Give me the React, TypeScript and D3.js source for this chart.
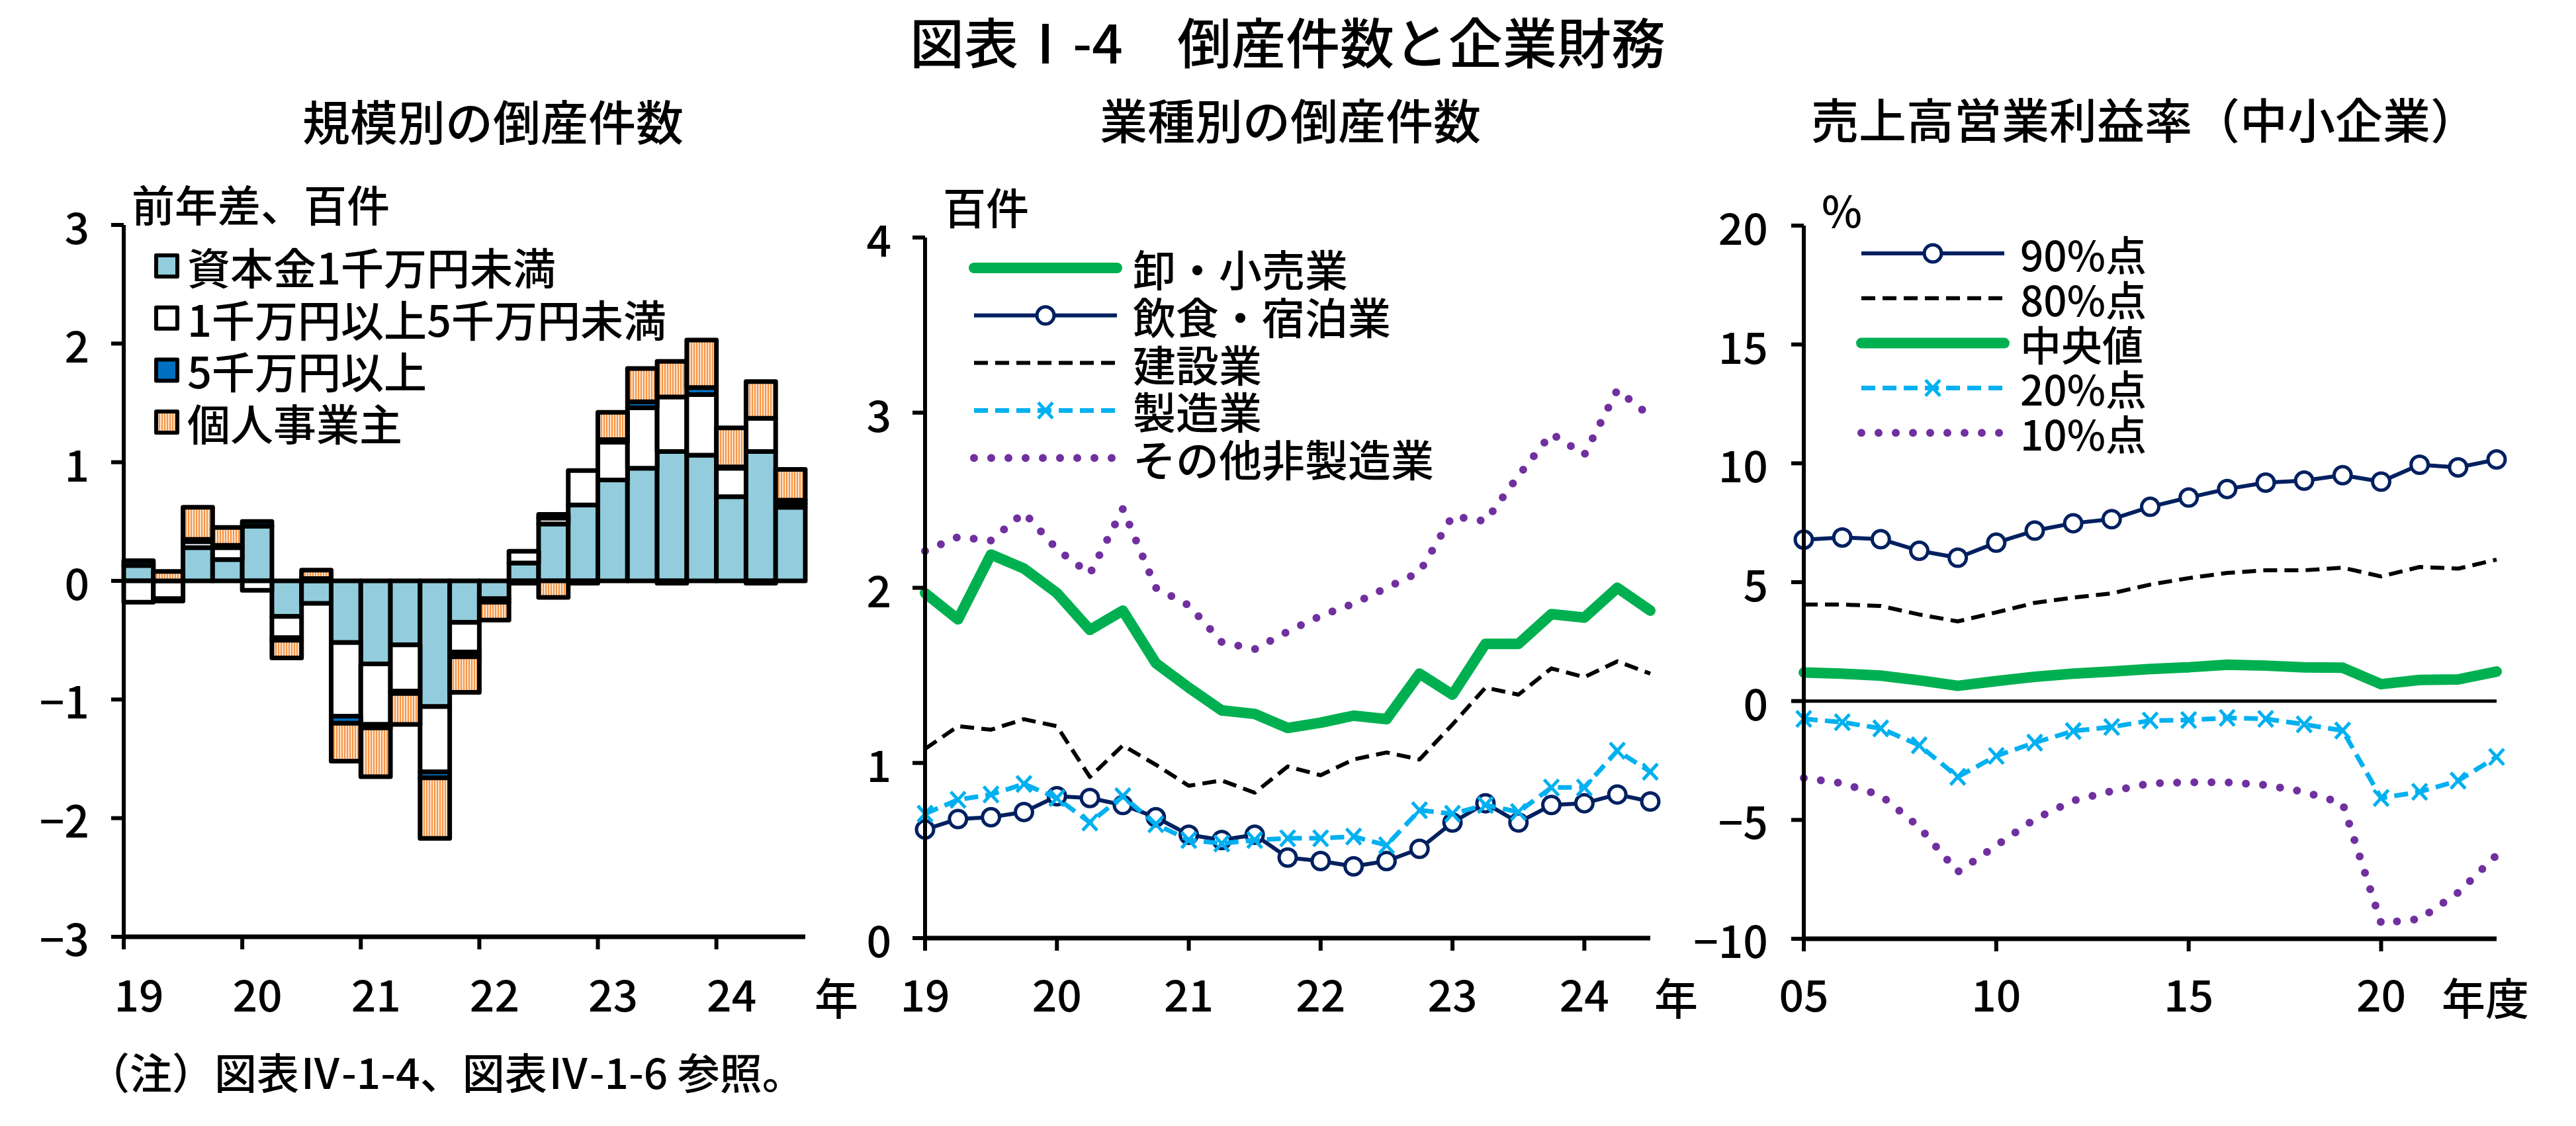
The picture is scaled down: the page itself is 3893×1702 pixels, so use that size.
import React from "react";
import * as d3 from "d3";

// ---------- DATA ----------
const quarters = ["19Q1","19Q2","19Q3","19Q4","20Q1","20Q2","20Q3","20Q4","21Q1","21Q2","21Q3","21Q4","22Q1","22Q2","22Q3","22Q4","23Q1","23Q2","23Q3","23Q4","24Q1","24Q2","24Q3"];
const yearLabels = ["19","20","21","22","23","24"];
const yearStartQuarters = ["19Q1","20Q1","21Q1","22Q1","23Q1","24Q1"];

// 規模別の倒産件数 (前年差、百件)
const capUnder10m = [0.13, 0, 0.28, 0.18, 0.46, -0.30, -0.19, -0.52, -0.70, -0.54, -1.06, -0.35, -0.15, 0.15, 0.48, 0.64, 0.85, 0.95, 1.09, 1.06, 0.71, 1.09, 0.62];
const cap10to50m = [-0.18, -0.15, 0.05, 0.10, -0.08, -0.18, 0.02, -0.62, -0.51, -0.39, -0.55, -0.25, -0.03, 0.10, 0.05, 0.29, 0.32, 0.51, 0.46, 0.51, 0.24, 0.28, 0.03];
const capOver50m = [0.04, -0.02, 0.02, 0.02, 0.04, -0.02, 0, -0.06, -0.03, -0.02, -0.05, -0.04, 0, -0.02, 0.03, -0.02, 0.02, 0.05, -0.02, 0.06, 0.01, -0.02, 0.03];
const soleProp = [0, 0.08, 0.27, 0.15, 0, -0.15, 0.07, -0.32, -0.41, -0.26, -0.51, -0.30, -0.15, 0, -0.14, 0, 0.23, 0.28, 0.30, 0.40, 0.33, 0.31, 0.26];
const sizeNames = ["資本金1千万円未満", "1千万円以上5千万円未満", "5千万円以上", "個人事業主"];

// 業種別の倒産件数 (百件)
const wholesaleRetail = [1.97, 1.82, 2.19, 2.11, 1.97, 1.76, 1.87, 1.57, 1.43, 1.30, 1.28, 1.20, 1.23, 1.27, 1.25, 1.51, 1.39, 1.68, 1.68, 1.85, 1.83, 2.00, 1.87];
const foodLodging = [0.62, 0.68, 0.69, 0.72, 0.81, 0.80, 0.76, 0.69, 0.59, 0.56, 0.59, 0.46, 0.44, 0.41, 0.44, 0.51, 0.66, 0.77, 0.66, 0.76, 0.77, 0.82, 0.78];
const construction = [1.08, 1.21, 1.19, 1.25, 1.21, 0.92, 1.10, 0.99, 0.87, 0.90, 0.83, 0.98, 0.93, 1.02, 1.06, 1.02, 1.22, 1.43, 1.39, 1.54, 1.49, 1.58, 1.51];
const manufacturing = [0.71, 0.79, 0.82, 0.88, 0.80, 0.66, 0.81, 0.65, 0.56, 0.54, 0.56, 0.57, 0.57, 0.58, 0.53, 0.73, 0.71, 0.76, 0.72, 0.86, 0.86, 1.07, 0.95];
const otherNonMfg = [2.21, 2.29, 2.27, 2.43, 2.22, 2.08, 2.45, 2.00, 1.90, 1.69, 1.65, 1.75, 1.84, 1.91, 2.00, 2.09, 2.41, 2.38, 2.64, 2.88, 2.76, 3.13, 2.98];
const industryNames = ["卸・小売業", "飲食・宿泊業", "建設業", "製造業", "その他非製造業"];

// 売上高営業利益率（中小企業） (%)
const fiscalYears = [2005,2006,2007,2008,2009,2010,2011,2012,2013,2014,2015,2016,2017,2018,2019,2020,2021,2022,2023];
const p90 = [6.79, 6.88, 6.81, 6.32, 6.03, 6.66, 7.17, 7.48, 7.65, 8.17, 8.56, 8.92, 9.19, 9.27, 9.50, 9.23, 9.94, 9.83, 10.16];
const p80 = [4.06, 4.06, 4.00, 3.64, 3.35, 3.73, 4.13, 4.35, 4.53, 4.90, 5.17, 5.39, 5.50, 5.50, 5.61, 5.24, 5.64, 5.57, 5.95];
const median = [1.20, 1.15, 1.07, 0.87, 0.64, 0.84, 1.02, 1.15, 1.24, 1.35, 1.42, 1.53, 1.49, 1.42, 1.40, 0.71, 0.89, 0.91, 1.24];
const p20 = [-0.75, -0.89, -1.15, -1.86, -3.19, -2.31, -1.75, -1.26, -1.09, -0.82, -0.80, -0.71, -0.75, -0.98, -1.24, -4.08, -3.82, -3.35, -2.35];
const p10 = [-3.24, -3.46, -3.97, -5.30, -7.19, -6.08, -4.97, -4.19, -3.79, -3.46, -3.42, -3.42, -3.53, -3.82, -4.30, -9.34, -9.17, -8.06, -6.48];
const percentileNames = ["90%点", "80%点", "中央値", "20%点", "10%点"];
const rightTickYears = [2005, 2010, 2015, 2020];
const rightTickLabels = ["05", "10", "15", "20"];

// ---------- STYLE ----------
const FONT = "'Noto Sans CJK JP', 'Noto Sans', sans-serif";
const NAVY = "#002060";
const GREEN = "#00B050";
const CYAN = "#00B0F0";
const PURPLE = "#7030A0";
const LIGHTBLUE = "#93CDDD";
const BLUE = "#0070C0";

const W = 3893, H = 1702;
const fmt = (v: number) => (v < 0 ? "\u2212" + Math.abs(v) : String(v));

type Style = { color: string; width: number; dash?: string; cap?: string; marker?: "circle" | "x" };
const sGreen: Style = { color: GREEN, width: 16, cap: "round" };
const sNavy: Style = { color: NAVY, width: 6, marker: "circle" };
const sBlack: Style = { color: "#000", width: 6, dash: "21 11" };
const sCyan: Style = { color: CYAN, width: 7, dash: "21 11", marker: "x" };
const sPurple: Style = { color: PURPLE, width: 12, dash: "0 26", cap: "round" };

function Marker({ x, y, type, color }: { x: number; y: number; type?: string; color: string }) {
  if (type === "circle") return <circle cx={x} cy={y} r={13} fill="#fff" stroke={color} strokeWidth={5} />;
  if (type === "x")
    return (
      <g stroke={color} strokeWidth={5}>
        <line x1={x - 11} y1={y - 12} x2={x + 11} y2={y + 12} />
        <line x1={x - 11} y1={y + 12} x2={x + 11} y2={y - 12} />
      </g>
    );
  return null;
}

function Series({ pts, s }: { pts: [number, number][]; s: Style }) {
  const path = d3.line()(pts) || "";
  return (
    <g>
      <path d={path} fill="none" stroke={s.color} strokeWidth={s.width} strokeDasharray={s.dash}
        strokeLinecap={(s.cap as any) || "butt"} strokeLinejoin="round" />
      {s.marker && pts.map((p, i) => <Marker key={i} x={p[0]} y={p[1]} type={s.marker} color={s.color} />)}
    </g>
  );
}

function LegendLine({ x1, x2, y, s }: { x1: number; x2: number; y: number; s: Style }) {
  return (
    <g>
      <line x1={x1} x2={x2} y1={y} y2={y} stroke={s.color} strokeWidth={s.width} strokeDasharray={s.dash}
        strokeLinecap={(s.cap as any) || "butt"} />
      {s.marker && <Marker x={(x1 + x2) / 2} y={y} type={s.marker} color={s.color} />}
    </g>
  );
}

export default function App() {
  // ----- Left panel scales -----
  const xL = d3.scaleBand<string>().domain(quarters).range([187, 1217]).padding(0);
  const yL = d3.scaleLinear().domain([-3, 3]).range([1416, 340]);
  const stackRows = quarters.map((q, i) => ({ q, a: capUnder10m[i], b: cap10to50m[i], c: capOver50m[i], d: soleProp[i] }));
  const stacked = d3.stack<any>().keys(["a", "b", "c", "d"]).offset(d3.stackOffsetDiverging)(stackRows);
  const fills = [LIGHTBLUE, "#ffffff", BLUE, "url(#hatch)"];

  // ----- Middle panel scales -----
  const xM = d3.scalePoint<string>().domain(quarters).range([1398, 2494]);
  const yM = d3.scaleLinear().domain([0, 4]).range([1418, 359]);
  const mid = (arr: number[]) => arr.map((v, i) => [xM(quarters[i])!, yM(v)] as [number, number]);

  // ----- Right panel scales -----
  const xR = d3.scaleLinear().domain([2005, 2023]).range([2726, 3773]);
  const yR = d3.scaleLinear().domain([-10, 20]).range([1419, 341]);
  const right = (arr: number[]) => arr.map((v, i) => [xR(fiscalYears[i]), yR(v)] as [number, number]);

  const axisW = 6;
  const tickLen = 19;
  const tickFont = 66;
  const legFont = 65;

  return (
    <div>
      <style>{`body{margin:0;background:#fff}`}</style>
      <svg width={W} height={H} viewBox={`0 0 ${W} ${H}`} style={{ display: "block", fontFamily: FONT, fontWeight: 500 }}>
        <defs>
          <pattern id="hatch" width="4" height="4" patternUnits="userSpaceOnUse">
            <rect width="4" height="4" fill="#FDE3CC" />
            <rect width="2" height="4" fill="#F79646" />
          </pattern>
        </defs>
        <rect width={W} height={H} fill="#fff" />

        {/* Titles */}
        <text x={1946} y={60} fontSize={82} textAnchor="middle" dominantBaseline="central">図表Ⅰ-4　倒産件数と企業財務</text>
        <text x={745} y={180} fontSize={72} textAnchor="middle" dominantBaseline="central">規模別の倒産件数</text>
        <text x={1950} y={178} fontSize={72} textAnchor="middle" dominantBaseline="central">業種別の倒産件数</text>
        <text x={2737} y={177} fontSize={72} textAnchor="start" dominantBaseline="central">売上高営業利益率（中小企業）</text>

        {/* ===== Left panel ===== */}
        <text x={199} y={307} fontSize={65} dominantBaseline="central">前年差、百件</text>
        {stacked.map((layer, li) => (
          <g key={li}>
            {layer.map((seg, i) => {
              const v = (stackRows[i] as any)[layer.key];
              if (Math.abs(v) < 0.001) return null;
              const y0 = yL(seg[1]);
              const y1 = yL(seg[0]);
              return (
                <rect key={i} x={xL(quarters[i])!} width={xL.bandwidth()} y={Math.min(y0, y1)} height={Math.abs(y1 - y0)}
                  fill={fills[li]} stroke="#000" strokeWidth={7} strokeLinejoin="round" />
              );
            })}
          </g>
        ))}
        {/* left axes */}
        <line x1={187} x2={187} y1={340} y2={1416 + tickLen} stroke="#000" strokeWidth={axisW} />
        <line x1={187} x2={1217} y1={1416} y2={1416} stroke="#000" strokeWidth={axisW + 1} />
        {yL.ticks(6).map((t) => (
          <g key={t}>
            <line x1={187 - tickLen} x2={187} y1={yL(t)} y2={yL(t)} stroke="#000" strokeWidth={axisW} />
            <text x={135} y={yL(t)} fontSize={tickFont} textAnchor="end" dominantBaseline="central">{fmt(t)}</text>
          </g>
        ))}
        {yearStartQuarters.map((q, i) => (
          <g key={q}>
            <line x1={xL(q)!} x2={xL(q)!} y1={1416} y2={1416 + tickLen} stroke="#000" strokeWidth={axisW} />
            <text x={xL(q)! + 23} y={1500} fontSize={tickFont} textAnchor="middle" dominantBaseline="central">{yearLabels[i]}</text>
          </g>
        ))}
        <text x={1231} y={1505} fontSize={tickFont} dominantBaseline="central">年</text>
        {/* left legend */}
        {sizeNames.map((n, i) => (
          <g key={n}>
            <rect x={236} y={402 + i * 78.7 - 16} width={32} height={32} fill={fills[i]} stroke="#000" strokeWidth={6} strokeLinejoin="round" />
            <text x={283} y={402 + i * 78.7} fontSize={legFont} dominantBaseline="central">{n}</text>
          </g>
        ))}

        {/* ===== Middle panel ===== */}
        <text x={1425} y={311} fontSize={65} dominantBaseline="central">百件</text>
        <Series pts={mid(wholesaleRetail)} s={sGreen} />
        <Series pts={mid(foodLodging)} s={sNavy} />
        <Series pts={mid(construction)} s={sBlack} />
        <Series pts={mid(manufacturing)} s={sCyan} />
        <Series pts={mid(otherNonMfg)} s={sPurple} />
        <line x1={1398} x2={1398} y1={359} y2={1418 + tickLen} stroke="#000" strokeWidth={axisW} />
        <line x1={1398} x2={2494} y1={1418} y2={1418} stroke="#000" strokeWidth={axisW + 1} />
        {yM.ticks(4).map((t) => (
          <g key={t}>
            <line x1={1398 - tickLen} x2={1398} y1={yM(t)} y2={yM(t)} stroke="#000" strokeWidth={axisW} />
            <text x={1347} y={yM(t)} fontSize={tickFont} textAnchor="end" dominantBaseline="central">{fmt(t)}</text>
          </g>
        ))}
        {yearStartQuarters.map((q, i) => (
          <g key={q}>
            <line x1={xM(q)!} x2={xM(q)!} y1={1418} y2={1418 + tickLen} stroke="#000" strokeWidth={axisW} />
            <text x={xM(q)!} y={1500} fontSize={tickFont} textAnchor="middle" dominantBaseline="central">{yearLabels[i]}</text>
          </g>
        ))}
        <text x={2500} y={1505} fontSize={tickFont} dominantBaseline="central">年</text>
        {[sGreen, sNavy, sBlack, sCyan, sPurple].map((s, i) => (
          <g key={i}>
            <LegendLine x1={1472} x2={1688} y={405 + i * 71.8} s={s} />
            <text x={1712} y={405 + i * 71.8} fontSize={legFont} dominantBaseline="central">{industryNames[i]}</text>
          </g>
        ))}

        {/* ===== Right panel ===== */}
        <text x={2753} y={316} fontSize={65} dominantBaseline="central">%</text>
        <line x1={2726} x2={3773} y1={yR(0)} y2={yR(0)} stroke="#000" strokeWidth={5} />
        <Series pts={right(p90)} s={sNavy} />
        <Series pts={right(p80)} s={sBlack} />
        <Series pts={right(median)} s={sGreen} />
        <Series pts={right(p20)} s={sCyan} />
        <Series pts={right(p10)} s={sPurple} />
        <line x1={2726} x2={2726} y1={341} y2={1419 + tickLen} stroke="#000" strokeWidth={axisW} />
        <line x1={2726} x2={3773} y1={1419} y2={1419} stroke="#000" strokeWidth={axisW + 1} />
        {yR.ticks(6).map((t) => (
          <g key={t}>
            <line x1={2726 - tickLen} x2={2726} y1={yR(t)} y2={yR(t)} stroke="#000" strokeWidth={axisW} />
            <text x={2672} y={yR(t)} fontSize={tickFont} textAnchor="end" dominantBaseline="central">{fmt(t)}</text>
          </g>
        ))}
        {rightTickYears.map((yv, i) => (
          <g key={yv}>
            <line x1={xR(yv)} x2={xR(yv)} y1={1419} y2={1419 + tickLen} stroke="#000" strokeWidth={axisW} />
            <text x={xR(yv)} y={1500} fontSize={tickFont} textAnchor="middle" dominantBaseline="central">{rightTickLabels[i]}</text>
          </g>
        ))}
        <text x={3690} y={1505} fontSize={tickFont} dominantBaseline="central">年度</text>
        {[sNavy, sBlack, sGreen, sCyan, sPurple].map((s, i) => (
          <g key={i}>
            <LegendLine x1={2813} x2={3029} y={383 + i * 67.8} s={s} />
            <text x={3053} y={383 + i * 67.8} fontSize={62} dominantBaseline="central">{percentileNames[i]}</text>
          </g>
        ))}

        {/* Note */}
        <text x={132} y={1618} fontSize={64} dominantBaseline="central">（注）図表Ⅳ-1-4、図表Ⅳ-1-6 参照。</text>
      </svg>
    </div>
  );
}
